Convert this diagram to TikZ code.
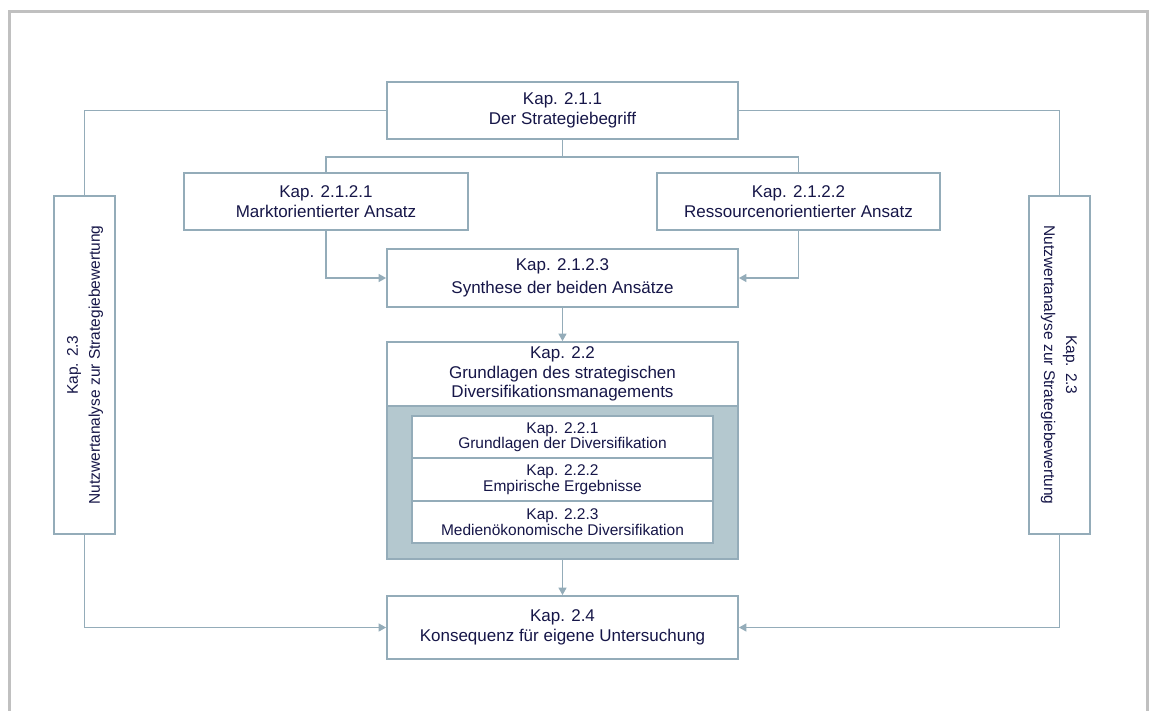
\documentclass[tikz,border=0pt]{standalone}
\usepackage{fontspec}
\setmainfont{Liberation Sans}
\usepackage{graphicx}
\usetikzlibrary{arrows.meta}
\definecolor{linecol}{RGB}{148,172,185}
\definecolor{fillcol}{RGB}{180,200,207}
\definecolor{txtcol}{RGB}{22,22,72}
\definecolor{framecol}{RGB}{192,192,192}

\newcommand{\sidetext}{\fontsize{15.5}{22}\selectfont\begin{tabular}{@{}c@{}}Kap. 2.3\\Nutzwertanalyse zur Strategiebewertung\end{tabular}}

\begin{document}
\begin{tikzpicture}[x=1pt,y=-1pt,
  box/.style={draw=linecol, line width=1.8pt, fill=white, text=txtcol, align=center,
    inner sep=0pt, font=\fontsize{17}{19.5}\selectfont},
  subbox/.style={box, font=\fontsize{15.5}{15.5}\selectfont},
  conn/.style={draw=linecol, line width=1.5pt},
  arr/.style={conn, -{Triangle[length=7.5pt,width=8pt]}},
  frame/.style={draw=framecol, line width=3pt},
]
\useasboundingbox (0,0) rectangle (1149,711);

% outer frame (open at the bottom)
\draw[frame] (9.5,711) -- (9.5,12) -- (1147,12) -- (1147,711);

% boxes
\node[box, minimum width=351, minimum height=57] (t211) at (562.5,110.5)
  {Kap. 2.1.1\\Der Strategiebegriff};
\node[box, minimum width=284, minimum height=57] (m2121) at (326,201.5)
  {Kap. 2.1.2.1\\Marktorientierter Ansatz};
\node[box, minimum width=283, minimum height=57] (r2122) at (798.5,201.5)
  {Kap. 2.1.2.2\\Ressourcenorientierter Ansatz};
\node[box, minimum width=351, minimum height=58] (s2123) at (562.5,278)
  {Kap. 2.1.2.3\\[3.5pt]Synthese der beiden Ansätze};

\node[box, minimum width=351, minimum height=64] (k22) at (562.5,374)
  {Kap. 2.2\\Grundlagen des strategischen\\Diversifikationsmanagements};
\node[box, fill=fillcol, minimum width=351, minimum height=153] (k22f) at (562.5,482.5) {};
\node[subbox, minimum width=301, minimum height=42] (k221) at (562.5,437)
  {Kap. 2.2.1\\Grundlagen der Diversifikation};
\node[subbox, minimum width=301, minimum height=43] (k222) at (562.5,479.5)
  {Kap. 2.2.2\\Empirische Ergebnisse};
\node[subbox, minimum width=301, minimum height=42] (k223) at (562.5,522)
  {Kap. 2.2.3\\Medienökonomische Diversifikation};

\node[box, minimum width=351, minimum height=63] (k24) at (562.5,627.5)
  {Kap. 2.4\\Konsequenz für eigene Untersuchung};

\node[box, minimum width=61, minimum height=338] (L) at (84.5,365)
  {\rotatebox{90}{\sidetext}};
\node[box, minimum width=61, minimum height=338] (R) at (1059.5,365)
  {\rotatebox{-90}{\sidetext}};

% connectors
\coordinate (split) at (562.5,157);
\draw[conn] (t211.west) -| (L.north);
\draw[conn] (t211.east) -| (R.north);
\draw[conn] (t211.south) -- (split);
\draw[conn] (m2121.north) |- (split) -| (r2122.north);
\draw[arr] (m2121.south) |- (s2123.west);
\draw[arr] (r2122.south) |- (s2123.east);
\draw[arr] (s2123.south) -- (k22.north);
\draw[arr] (k22f.south) -- (k24.north);
\draw[arr] (L.south) |- (k24.west);
\draw[arr] (R.south) |- (k24.east);
\end{tikzpicture}
\end{document}
